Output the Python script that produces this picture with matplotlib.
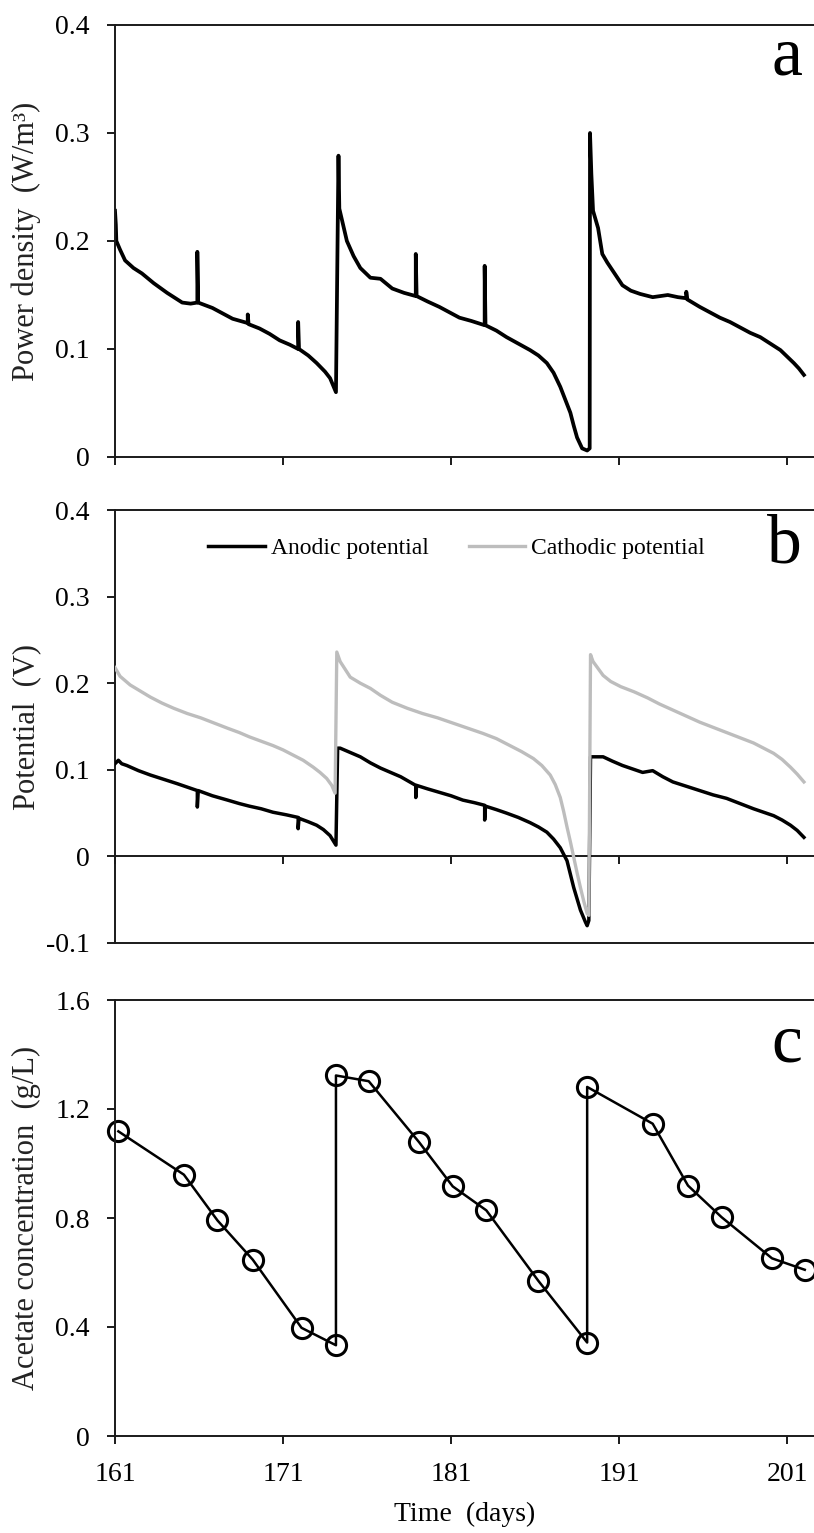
import matplotlib
matplotlib.use('Agg')
import matplotlib.pyplot as plt

plt.rcParams['font.family'] = ['Liberation Serif', 'DejaVu Serif']

# ---- panel a: power density (W/m3) ----
pa_day = [161.00, 161.05, 161.08, 161.3, 161.6, 162.1, 162.6, 163.3, 164.1, 165.0, 165.5,
          165.9, 165.9, 165.95, 166.8, 167.4, 168.0, 168.9, 168.9, 168.95, 169.6, 170.2,
          170.8, 171.4, 171.9, 171.9, 171.95, 172.5, 173.0, 173.5, 173.8, 174.15, 174.3,
          174.35, 174.8, 175.2, 175.6, 176.2, 176.8, 177.5, 178.2, 178.9, 178.9, 178.95,
          179.6, 180.3, 180.9, 181.5, 182.2, 183.0, 183.0, 183.05, 183.7, 184.3, 185.0,
          185.7, 186.2, 186.7, 187.1, 187.5, 187.8, 188.1, 188.3, 188.5, 188.8, 189.1,
          189.25, 189.27, 189.35, 189.45, 189.75, 190.0, 190.3, 190.6, 191.2, 191.7,
          192.25, 193.0, 193.9, 194.5, 195.0, 195.0, 195.05, 195.8, 196.4, 197.0, 197.6,
          198.2, 198.8, 199.4, 200.0, 200.6, 201.0, 201.4, 201.7, 202.0]
pa_val = [0.228, 0.215, 0.200, 0.192, 0.182, 0.175, 0.170, 0.161, 0.152, 0.143, 0.142,
          0.143, 0.190, 0.143, 0.138, 0.133, 0.128, 0.124, 0.132, 0.123, 0.119, 0.114,
          0.108, 0.104, 0.100, 0.125, 0.100, 0.094, 0.087, 0.079, 0.073, 0.060, 0.279,
          0.230, 0.200, 0.186, 0.175, 0.166, 0.165, 0.156, 0.152, 0.149, 0.188, 0.149,
          0.144, 0.139, 0.134, 0.129, 0.126, 0.122, 0.177, 0.122, 0.117, 0.111, 0.105,
          0.099, 0.094, 0.087, 0.078, 0.065, 0.053, 0.041, 0.029, 0.018, 0.008, 0.006,
          0.008, 0.300, 0.262, 0.228, 0.212, 0.188, 0.180, 0.173, 0.159, 0.154,
          0.151, 0.148, 0.150, 0.148, 0.147, 0.153, 0.146, 0.139, 0.134, 0.129, 0.125,
          0.120, 0.115, 0.111, 0.105, 0.099, 0.093, 0.087, 0.082, 0.076]

# ---- panel b: electrode potentials (V) ----
an_day = [161.0, 161.2, 161.4, 161.7, 162.4, 163.1, 163.9, 164.7, 165.3, 165.9, 165.9,
          165.95, 166.8, 167.7, 168.4, 169.0, 169.7, 170.4, 171.2, 171.9, 171.9, 171.95,
          172.5, 173.0, 173.4, 173.8, 174.15, 174.25, 174.4, 175.0, 175.6, 176.2, 176.8,
          177.4, 178.0, 178.9, 178.9, 178.95, 179.6, 180.3, 181.0, 181.7, 182.4, 183.0,
          183.0, 183.05, 183.7, 184.3, 185.0, 185.7, 186.2, 186.7, 187.1, 187.5, 187.9,
          188.3, 188.7, 189.0, 189.1, 189.2, 189.3, 190.05, 190.6, 191.2, 191.8, 192.4,
          193.0, 193.6, 194.2, 195.0, 195.8, 196.6, 197.4, 198.2, 199.0, 199.6, 200.2,
          200.7, 201.2, 201.6, 202.0]
an_val = [0.107, 0.111, 0.107, 0.105, 0.099, 0.094, 0.089, 0.084, 0.080, 0.076, 0.057,
          0.076, 0.070, 0.065, 0.061, 0.058, 0.055, 0.051, 0.048, 0.045, 0.032, 0.044,
          0.040, 0.036, 0.031, 0.024, 0.013, 0.125, 0.125, 0.120, 0.115, 0.108, 0.102,
          0.097, 0.092, 0.082, 0.068, 0.082, 0.078, 0.074, 0.070, 0.065, 0.062, 0.059,
          0.042, 0.058, 0.054, 0.050, 0.045, 0.039, 0.034, 0.028, 0.020, 0.010, -0.005,
          -0.036, -0.062, -0.076, -0.080, -0.074, 0.115, 0.115, 0.110, 0.105, 0.101, 0.097,
          0.099, 0.092, 0.086, 0.081, 0.076, 0.071, 0.067, 0.061, 0.055, 0.051, 0.047,
          0.042, 0.036, 0.030, 0.022]

ca_day = [161.0, 161.3, 161.9, 162.5, 163.1, 163.8, 164.5, 165.3, 166.1, 166.9, 167.7,
          168.4, 169.0, 169.7, 170.4, 171.0, 171.6, 172.2, 172.8, 173.2, 173.6, 173.9,
          174.1, 174.2, 174.4, 175.0, 175.6, 176.2, 176.8, 177.5, 178.4, 179.3, 180.2,
          181.1, 182.0, 182.9, 183.7, 184.5, 185.2, 185.9, 186.4, 186.9, 187.2, 187.5,
          187.7, 187.9, 188.1, 188.3, 188.5, 188.7, 188.9, 189.1, 189.2, 189.3, 189.45,
          190.05, 190.5, 191.1, 191.9, 192.7, 193.4, 194.2, 195.0, 195.8, 196.6, 197.4,
          198.2, 199.0, 199.6, 200.2, 200.7, 201.2, 201.6, 202.0]
ca_val = [0.218, 0.208, 0.198, 0.191, 0.184, 0.177, 0.171, 0.165, 0.160, 0.154, 0.148,
          0.143, 0.138, 0.133, 0.128, 0.123, 0.117, 0.111, 0.103, 0.097, 0.090, 0.082,
          0.073, 0.236, 0.225, 0.207, 0.200, 0.194, 0.186, 0.178, 0.171, 0.165, 0.160,
          0.154, 0.148, 0.142, 0.136, 0.128, 0.121, 0.113, 0.105, 0.094, 0.083, 0.068,
          0.052, 0.034, 0.017, -0.001, -0.019, -0.036, -0.052, -0.066, -0.068, 0.233, 0.225,
          0.209, 0.202, 0.196, 0.190, 0.183, 0.176, 0.169, 0.162, 0.155, 0.149, 0.143,
          0.137, 0.131, 0.125, 0.119, 0.112, 0.103, 0.095, 0.086]

# ---- panel c: acetate concentration (g/L) ----
ac_day = [161.2, 165.1, 167.1, 169.2, 172.1, 174.15, 174.15, 176.1, 179.1, 181.1, 183.1,
          186.2, 189.1, 189.1, 193.0, 195.1, 197.1, 200.1, 202.05]
ac_val = [1.118, 0.959, 0.791, 0.647, 0.397, 0.333, 1.323, 1.302, 1.078, 0.916, 0.828,
          0.569, 0.343, 1.281, 1.146, 0.919, 0.803, 0.652, 0.610]

x_ticks = [161, 171, 181, 191, 201]

W, H = 814, 1533
fig = plt.figure(figsize=(W / 100, H / 100), dpi=100)


def px_axes(top, bottom):
    return fig.add_axes([115 / W, 1 - bottom / H, (W - 115) / W, (bottom - top) / H])


def style(ax, yticks, ylabels, ylabel):
    ax.set_xlim(161, 202.6)
    ax.set_xticks(x_ticks)
    ax.set_yticks(yticks)
    ax.set_yticklabels(ylabels)
    ax.spines['right'].set_visible(False)
    for s in ['left', 'bottom', 'top']:
        ax.spines[s].set_linewidth(1.4)
        ax.spines[s].set_color('#1a1a1a')
    ax.tick_params(axis='both', direction='out', length=6, width=1.4, color='#1a1a1a',
                   labelsize=20, top=False, right=False)
    ax.tick_params(axis='y', pad=12)
    ax.tick_params(axis='x', pad=13)
    ax.set_ylabel(ylabel, fontsize=22, color='#222222')
    ax.yaxis.set_label_coords(-0.106, 0.5)


ax_a = px_axes(25, 457)
ax_a.plot(pa_day, pa_val, color='black', lw=2.7)
ax_a.set_ylim(0, 0.4)
style(ax_a, [0, 0.1, 0.2, 0.3, 0.4], ['0', '0.1', '0.2', '0.3', '0.4'],
      'Power density  (W/m³)')
ax_a.set_xticklabels([])

ax_b = px_axes(510, 943)
ax_b.plot(an_day, an_val, color='black', lw=2.5, label='Anodic potential', zorder=3)
ax_b.plot(ca_day, ca_val, color='#bdbdbd', lw=2.4, label='Cathodic potential', zorder=4)
ax_b.set_ylim(-0.1, 0.4)
style(ax_b, [-0.1, 0, 0.1, 0.2, 0.3, 0.4], ['-0.1', '0', '0.1', '0.2', '0.3', '0.4'],
      'Potential  (V)')
ax_b.spines['bottom'].set_position(('data', 0))
ax_b.axhline(-0.1, color='#1a1a1a', lw=1.4, clip_on=False)
ax_b.set_xticklabels([])
ax_b.legend(loc='center left', bbox_to_anchor=(0.103, 0.912), ncol=2, frameon=False,
            fontsize=17, handlelength=2.4, handletextpad=0.25, columnspacing=1.7,
            borderpad=0.4)

ax_c = px_axes(1000, 1436)
ax_c.plot(ac_day, ac_val, color='black', lw=1.8, marker='o', ms=14.5, mfc='none',
          mec='black', mew=2.2, clip_on=False)
ax_c.set_ylim(0, 1.6)
style(ax_c, [0, 0.4, 0.8, 1.2, 1.6], ['0', '0.4', '0.8', '1.2', '1.6'],
      'Acetate concentration  (g/L)')
ax_c.set_xticklabels([str(t) for t in x_ticks])
ax_c.set_xlabel('Time  (days)', fontsize=20)
ax_c.xaxis.set_label_coords(0.5, -0.152)

for letter, ypx in [('a', 58), ('b', 546), ('c', 1045)]:
    fig.text(802 / W, 1 - ypx / H, letter, fontsize=50, ha='right', va='center')

fig.savefig('out.png', dpi=100)
